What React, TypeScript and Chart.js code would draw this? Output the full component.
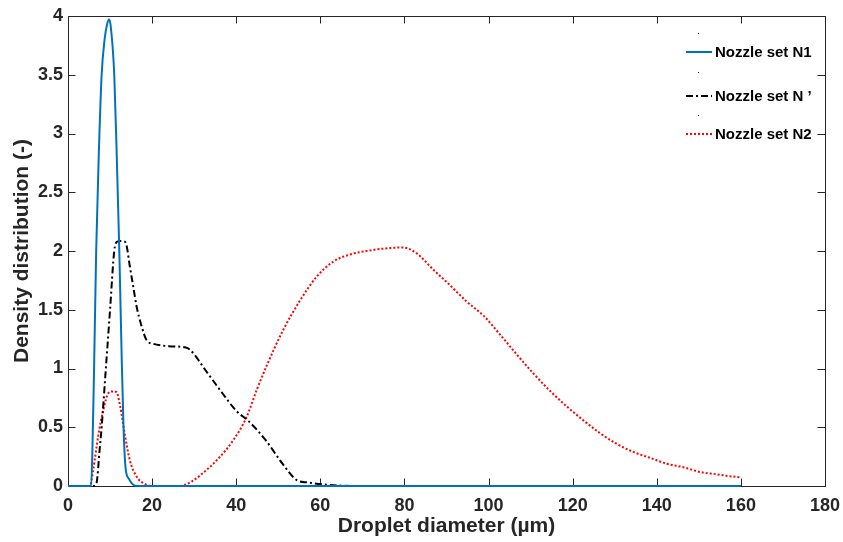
import React, { useEffect, useRef } from "react";
import { Chart, registerables } from "chart.js";

Chart.register(...registerables);

// ---- Data (droplet diameter in µm, density distribution) ----
const n1X = [0, 5.5, 5.8, 6.2, 6.7, 7.3, 8.0, 8.7, 9.3, 9.8, 10.2, 11.0, 11.6, 12.2, 12.7, 13.2, 13.7, 14.5, 15.5, 16.5, 60, 160];
const n1Y = [0, 0, 0.3, 1.0, 2.0, 2.8, 3.5, 3.8, 3.93, 3.97, 3.9, 3.5, 2.8, 2.0, 1.2, 0.5, 0.15, 0.06, 0.01, 0, 0, 0];

const npX = [0, 6.0, 6.8, 7.5, 8.0, 9.0, 10.0, 11.0, 11.7, 12.5, 13.5, 13.9, 14.7, 15.5, 16.3, 17.5, 18.7, 20.3, 24.0, 27.8, 29.0, 33.0, 36.5, 40.0, 43.0, 47.0, 51.0, 54.4, 57.0, 59.0, 64.0, 70.0, 160];
const npY = [0, 0, 0.03, 0.3, 0.5, 1.0, 1.5, 2.0, 2.08, 2.085, 2.08, 2.05, 1.87, 1.7, 1.53, 1.36, 1.24, 1.21, 1.19, 1.18, 1.16, 0.97, 0.8, 0.64, 0.55, 0.39, 0.19, 0.05, 0.03, 0.02, 0.005, 0, 0];

const n2X = [0, 5.2, 6.0, 7.2, 8.4, 9.6, 10.5, 11.5, 12.4, 13.6, 14.7, 16.3, 18.7, 20.0, 26.6, 27.4, 29.5, 31.4, 35.4, 39.3, 42.5, 44.9, 47.2, 51.2, 55.2, 59.1, 63.1, 67.0, 71.0, 75.0, 79.7, 82.9, 86.9, 90.8, 94.8, 98.8, 102.7, 106.7, 110.6, 114.6, 118.5, 122.5, 126.5, 130.4, 134.4, 138.4, 142.3, 146.3, 150.2, 154.2, 157.0, 160.0];
const n2Y = [0, 0, 0.14, 0.43, 0.65, 0.79, 0.805, 0.8, 0.68, 0.42, 0.22, 0.08, 0.01, 0, 0, 0.005, 0.04, 0.09, 0.22, 0.39, 0.59, 0.82, 1.02, 1.33, 1.58, 1.78, 1.91, 1.97, 2.0, 2.02, 2.03, 1.98, 1.84, 1.71, 1.57, 1.45, 1.29, 1.12, 0.96, 0.81, 0.68, 0.56, 0.45, 0.36, 0.29, 0.24, 0.19, 0.16, 0.12, 0.1, 0.085, 0.074];

const seriesLabels = ["Nozzle set N1", "Nozzle set N \u2019", "Nozzle set N2"];
const xTitle = "Droplet diameter (\u00b5m)";
const yTitle = "Density distribution (-)";

const AXIS_COLOR = "#262626";
const FONT = "'Liberation Sans', Arial, sans-serif";

const toPts = (xs: number[], ys: number[]) => xs.map((x, i) => ({ x, y: ys[i] }));

const framePlugin = {
  id: "matlabFrame",
  beforeDatasetsDraw(chart: any) {
    const { ctx, chartArea: a, scales } = chart;
    ctx.save();
    ctx.strokeStyle = AXIS_COLOR;
    ctx.lineWidth = 1;
    ctx.strokeRect(Math.round(a.left) + 0.5, Math.round(a.top) + 0.5, Math.round(a.right - a.left), Math.round(a.bottom - a.top));
    const tl = 7.5;
    ctx.beginPath();
    scales.x.ticks.forEach((t: any) => {
      const px = Math.round(scales.x.getPixelForValue(t.value)) + 0.5;
      ctx.moveTo(px, a.bottom);
      ctx.lineTo(px, a.bottom - tl);
      ctx.moveTo(px, a.top);
      ctx.lineTo(px, a.top + tl);
    });
    scales.y.ticks.forEach((t: any) => {
      const py = Math.round(scales.y.getPixelForValue(t.value)) + 0.5;
      ctx.moveTo(a.left, py);
      ctx.lineTo(a.left + tl, py);
      ctx.moveTo(a.right, py);
      ctx.lineTo(a.right - tl, py);
    });
    ctx.stroke();
    ctx.restore();
  },
  afterDraw(chart: any) {
    const { ctx } = chart;
    const rows = [52, 96, 134];
    const dots = [33, 72, 115];
    ctx.save();
    chart.data.datasets.forEach((ds: any, i: number) => {
      const y = rows[i];
      ctx.fillStyle = "#0000ff";
      ctx.fillRect(698, dots[i], 1, 1);
      ctx.beginPath();
      ctx.strokeStyle = ds.borderColor;
      ctx.lineWidth = ds.borderWidth;
      ctx.setLineDash(ds.borderDash || []);
      ctx.moveTo(686, y);
      ctx.lineTo(712, y);
      ctx.stroke();
      ctx.setLineDash([]);
      ctx.fillStyle = "#000000";
      ctx.font = `bold 15px ${FONT}`;
      ctx.textBaseline = "middle";
      ctx.textAlign = "left";
      ctx.fillText(ds.label, 715, y + 1);
    });
    ctx.restore();
  },
};

export default function App() {
  const ref = useRef<HTMLCanvasElement | null>(null);
  useEffect(() => {
    document.body.style.margin = "0";
    const canvas = ref.current;
    if (!canvas) return;
    const common = {
      fill: false,
      pointRadius: 0,
      pointHoverRadius: 0,
      cubicInterpolationMode: "monotone" as const,
      clip: false as any,
    };
    const chart = new Chart(canvas, {
      type: "line",
      data: {
        datasets: [
          { ...common, label: seriesLabels[0], data: toPts(n1X, n1Y), borderColor: "#0072BD", borderWidth: 2 },
          { ...common, label: seriesLabels[1], data: toPts(npX, npY), borderColor: "#000000", borderWidth: 2, borderDash: [7, 3, 2, 3] },
          { ...common, label: seriesLabels[2], data: toPts(n2X, n2Y), borderColor: "#FF0000", borderWidth: 2, borderDash: [2, 2] },
        ],
      },
      options: {
        animation: false,
        responsive: false,
        devicePixelRatio: 1,
        parsing: false as any,
        layout: { padding: { left: 0, top: 16, right: 18, bottom: 0 } },
        plugins: { legend: { display: false }, tooltip: { enabled: false } },
        events: [],
        scales: {
          x: {
            type: "linear",
            min: 0,
            max: 180,
            grid: { display: false, drawTicks: false },
            border: { display: false },
            ticks: { stepSize: 20, color: AXIS_COLOR, padding: 9, font: { family: FONT, size: 18, weight: "bold" }, callback: (v: any) => String(Number(v)) },
            title: { display: true, text: xTitle, color: AXIS_COLOR, padding: { top: 0, bottom: 3 }, font: { family: FONT, size: 21, weight: "bold" } },
            afterFit: (s: any) => { s.height = 56; s.paddingLeft = 0; s.paddingRight = 0; },
          },
          y: {
            type: "linear",
            min: 0,
            max: 4,
            grid: { display: false, drawTicks: false },
            border: { display: false },
            ticks: { stepSize: 0.5, color: AXIS_COLOR, padding: 5, font: { family: FONT, size: 18, weight: "bold" }, callback: (v: any) => String(Number(v)) },
            title: { display: true, text: yTitle, color: AXIS_COLOR, padding: { top: 10, bottom: 0 }, font: { family: FONT, size: 21, weight: "bold" } },
            afterFit: (s: any) => { s.width = 68; s.paddingTop = 0; s.paddingBottom = 0; },
          },
        },
      },
      plugins: [framePlugin],
    });
    return () => chart.destroy();
  }, []);
  return (
    <div style={{ position: "absolute", left: 0, top: 0, width: 843, height: 542, background: "#fff" }}>
      <canvas ref={ref} width={843} height={542} style={{ width: 843, height: 542 }} />
    </div>
  );
}
